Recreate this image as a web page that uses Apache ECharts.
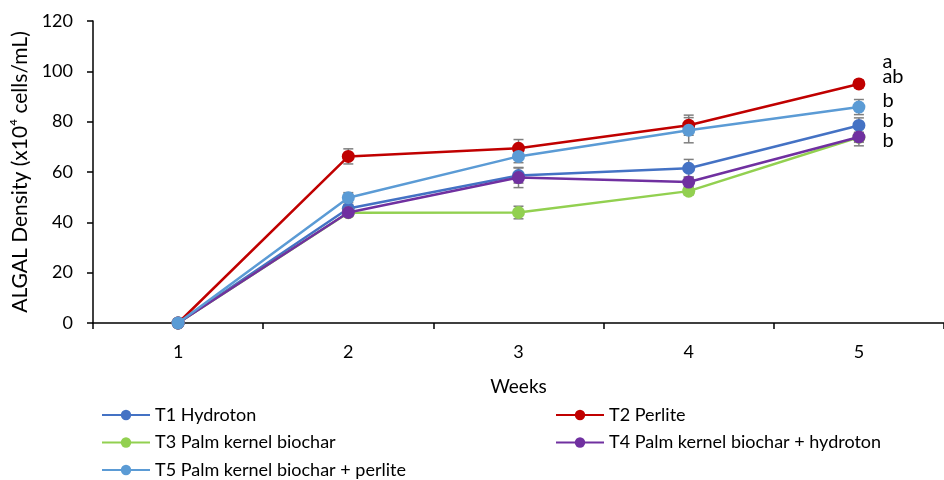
<!DOCTYPE html>
<html><head><meta charset="utf-8">
<script src="https://cdn.jsdelivr.net/npm/echarts@6/dist/echarts.min.js"></script>
<style>html,body{margin:0;padding:0;background:#fff}#c{width:944px;height:480px}</style>
</head><body><div id="c"></div>
<script>
const weeks = ["1", "2", "3", "4", "5"];
const seriesNames = ["T1 Hydroton", "T2 Perlite", "T3 Palm kernel biochar", "T4 Palm kernel biochar + hydroton", "T5 Palm kernel biochar + perlite"];
const t1 = [0, 45.5, 58.6, 61.5, 78.5];
const t2 = [0, 66.2, 69.4, 78.6, 95.0];
const t3 = [0, 43.8, 43.9, 52.4, 73.8];
const t4 = [0, 43.9, 57.8, 56.0, 73.9];
const t5 = [0, 49.8, 66.2, 76.6, 85.8];
const e1 = [0, 1.5, 3, 3.5, 3];
const e2 = [0, 3, 3.5, 4, 1.5];
const e3 = [0, 1.5, 2.5, 1.5, 2];
const e4 = [0, 1.5, 4, 2, 3.5];
const e5 = [0, 2, 2.5, 5, 3];
const letters = ["b", "a", "b", "b", "ab"];

const values = [t1, t2, t3, t4, t5];
const errors = [e1, e2, e3, e4, e5];
const colors = ["#4472C4", "#C00000", "#92D050", "#7030A0", "#5B9BD5"];
const letterOffsets = [[17, -25], [17, -22], [17, 3], [17, -16], [17, -31]];
const legendPos = [[96, 400], [550, 400], [96, 427.5], [550, 427.5], [96, 455]];
const FONT = "Lato";

const chart = echarts.init(document.getElementById('c'), null, {renderer: 'canvas'});

const series = [];
values.forEach((vals, s) => {
  series.push({
    type: 'custom',
    name: seriesNames[s] + ' err',
    data: vals.map((v, i) => [i, v, errors[s][i]]),
    z: 1,
    silent: true,
    renderItem: function (params, api) {
      const x = api.value(0), y = api.value(1), e = api.value(2);
      if (!e) return null;
      const top = api.coord([x, y + e]);
      const bot = api.coord([x, y - e]);
      const hw = 5;
      const st = {stroke: '#7f7f7f', lineWidth: 1.5};
      return {type: 'group', children: [
        {type: 'line', shape: {x1: top[0], y1: top[1], x2: bot[0], y2: bot[1]}, style: st},
        {type: 'line', shape: {x1: top[0] - hw, y1: top[1], x2: top[0] + hw, y2: top[1]}, style: st},
        {type: 'line', shape: {x1: bot[0] - hw, y1: bot[1], x2: bot[0] + hw, y2: bot[1]}, style: st}
      ]};
    }
  });
});
values.forEach((vals, s) => {
  series.push({
    type: 'line',
    name: seriesNames[s],
    data: vals.map((v, i) => i === vals.length - 1 ? {
      value: v,
      label: {show: true, formatter: letters[s], position: 'right', distance: 0,
        offset: letterOffsets[s], fontSize: 20, color: '#000', fontFamily: FONT}
    } : v),
    z: 3 + s,
    symbol: 'circle',
    symbolSize: 13,
    showAllSymbol: true,
    lineStyle: {width: 2.5, color: colors[s]},
    itemStyle: {color: colors[s]},
    emphasis: {disabled: true},
    animation: false
  });
});

const legends = seriesNames.map((n, s) => ({
  orient: 'horizontal',
  left: legendPos[s][0],
  top: legendPos[s][1],
  itemWidth: 48,
  itemHeight: 13,
  textStyle: {fontSize: 18, fontFamily: FONT, color: '#000', lineHeight: 20},
  selectedMode: false,
  data: [n]
}));

chart.setOption({
  animation: false,
  color: colors,
  grid: {left: 93, top: 21, width: 853, height: 302, containLabel: false},
  legend: legends,
  xAxis: {
    type: 'category',
    data: weeks,
    boundaryGap: true,
    name: 'Weeks',
    nameLocation: 'middle',
    nameGap: 54,
    nameTextStyle: {fontSize: 19, fontFamily: FONT, color: '#000'},
    axisLine: {lineStyle: {color: '#000', width: 1.5}},
    axisTick: {show: true, length: 6, lineStyle: {color: '#000', width: 1.5}, alignWithLabel: false},
    axisLabel: {fontSize: 18, fontFamily: FONT, color: '#000', margin: 20}
  },
  yAxis: {
    type: 'value',
    min: 0, max: 120, interval: 20,
    name: 'ALGAL Density (x10⁴ cells/mL)',
    nameLocation: 'middle',
    nameGap: 60,
    nameRotate: 90,
    nameTextStyle: {fontSize: 21, fontFamily: FONT, color: '#000'},
    axisLine: {show: true, lineStyle: {color: '#000', width: 1.5}},
    axisTick: {show: true, length: 6, lineStyle: {color: '#000', width: 1.5}},
    axisLabel: {fontSize: 18, fontFamily: FONT, color: '#000', margin: 20},
    splitLine: {show: false}
  },
  series: series
});
</script></body></html>
